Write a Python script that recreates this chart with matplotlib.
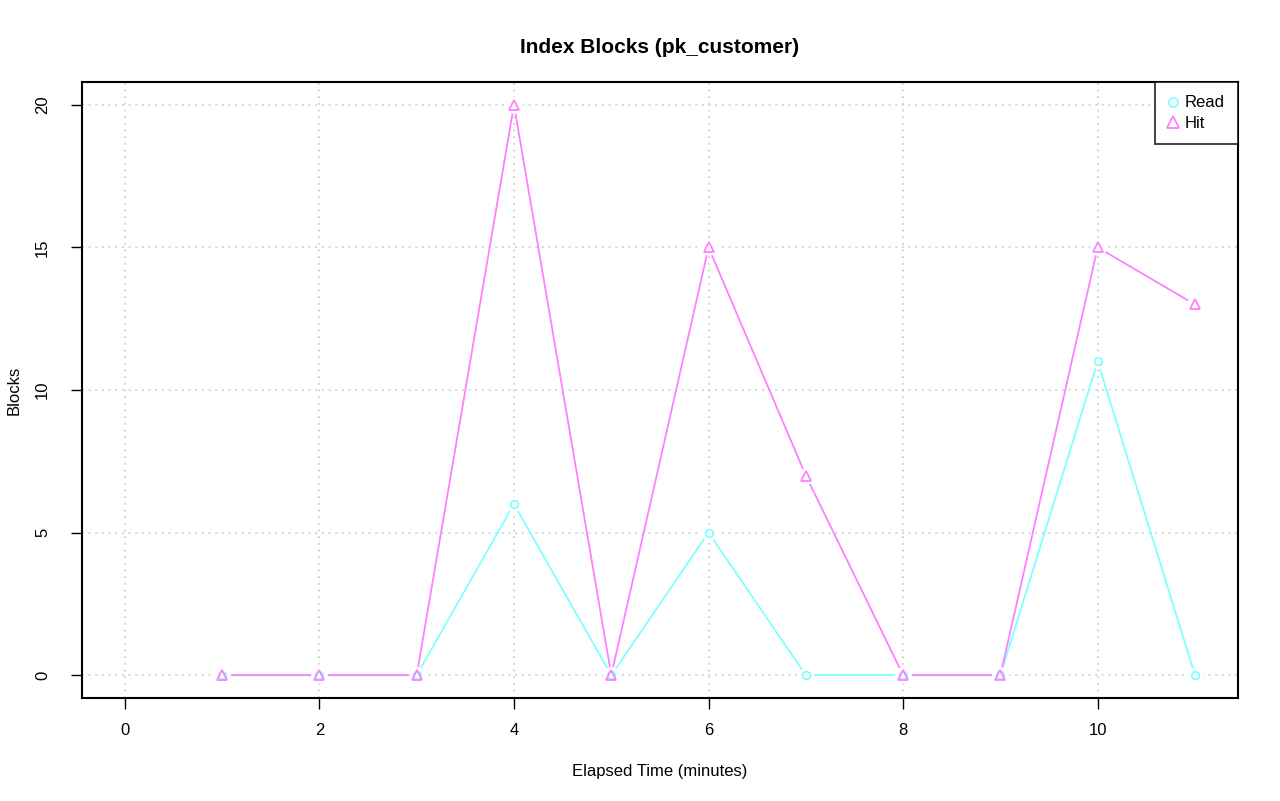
import matplotlib
matplotlib.use('Agg')
import matplotlib.pyplot as plt

plt.rcParams['font.family'] = ['Liberation Sans', 'DejaVu Sans']

# Data
minutes = [1, 2, 3, 4, 5, 6, 7, 8, 9, 10, 11]
read_blocks = [0, 0, 0, 6, 0, 5, 0, 0, 0, 11, 0]
hit_blocks = [0, 0, 0, 20, 0, 15, 7, 0, 0, 15, 13]

x_ticks = [0, 2, 4, 6, 8, 10]
y_ticks = [0, 5, 10, 15, 20]

read_color = '#80ffff'
hit_color = '#ff80ff'

fig = plt.figure(figsize=(12.8, 8.01), dpi=100)
ax = fig.add_axes([0.0641, 0.1286, 0.9029, 0.769])

ax.set_xlim(-0.44, 11.44)
ax.set_ylim(-0.8, 20.8)

# dotted grid like R's grid()
for xt in x_ticks:
    ax.axvline(xt, color='#c8c8c8', linestyle=(0, (1, 3)), linewidth=1.2, zorder=1)
for yt in y_ticks:
    ax.axhline(yt, color='#c8c8c8', linestyle=(0, (1, 3)), linewidth=1.2, zorder=1)

# lines with gaps around the points (R type="b")
ax.plot(minutes, read_blocks, color=read_color, linewidth=1.3, zorder=2)
ax.plot(minutes, hit_blocks, color=hit_color, linewidth=1.3, zorder=2)
ax.plot(minutes, read_blocks, linestyle='none', marker='o', markersize=11,
        markerfacecolor='white', markeredgecolor='none', zorder=3)
ax.plot(minutes, hit_blocks, linestyle='none', marker='o', markersize=12,
        markerfacecolor='white', markeredgecolor='none', zorder=3)
ax.plot(minutes, read_blocks, linestyle='none', marker='o', markersize=5.5,
        markerfacecolor='none', markeredgecolor=read_color, markeredgewidth=1.3,
        zorder=4, label='Read')
ax.plot(minutes, hit_blocks, linestyle='none', marker='^', markersize=7,
        markerfacecolor='none', markeredgecolor=hit_color, markeredgewidth=1.3,
        zorder=4, label='Hit')

ax.set_xticks(x_ticks)
ax.set_yticks(y_ticks)
ax.tick_params(direction='out', length=8, width=1, labelsize=12, pad=10)
ax.tick_params(axis='y', pad=15)
plt.setp(ax.get_yticklabels(), rotation=90, va='center')
for s in ax.spines.values():
    s.set_linewidth(1.5)

ax.set_title('Index Blocks (pk_customer)', fontsize=15, fontweight='bold', pad=21)
ax.set_xlabel('Elapsed Time (minutes)', fontsize=12, labelpad=19)
ax.set_ylabel('Blocks', fontsize=12, labelpad=10)

leg = ax.legend(loc='upper right', bbox_to_anchor=(1.0, 1.0), fontsize=12,
                frameon=True, fancybox=False, borderaxespad=0, handlelength=0.5,
                handletextpad=0.45, labelspacing=0.32, borderpad=0.8,
                markerscale=1.2)
leg.get_frame().set_edgecolor('black')
leg.get_frame().set_linewidth(1.3)

fig.savefig('out.png', dpi=100)
